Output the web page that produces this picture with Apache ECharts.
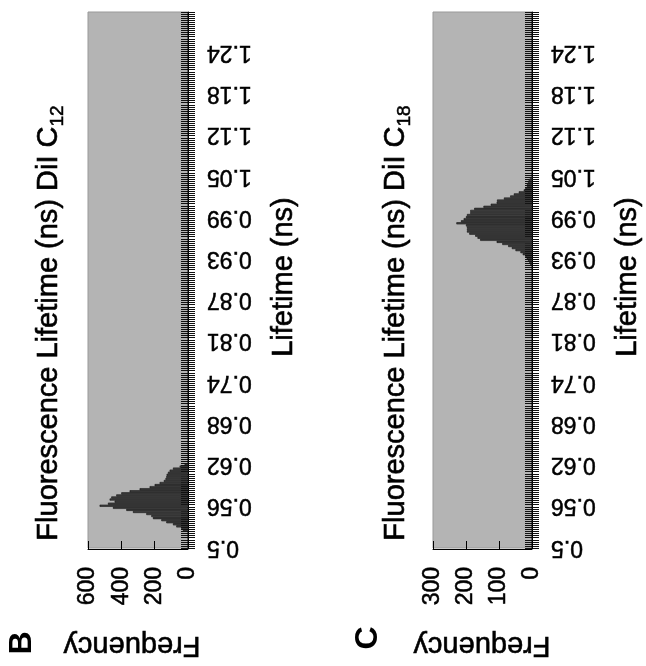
<!DOCTYPE html>
<html><head><meta charset="utf-8">
<script src="https://cdn.jsdelivr.net/npm/echarts@6/dist/echarts.min.js"></script>
<style>html,body{margin:0;padding:0;background:#fff}#c{width:646px;height:666px}</style>
</head><body><div id="c"></div>
<script>
// Lifetime tick labels (every 20th bin)
const tickLabels = ['0.5','0.56','0.62','0.68','0.74','0.81','0.87','0.93','0.99','1.05','1.12','1.18','1.24'];
const binsPerLabel = 20;
const binCount = 260;
// Panel B: DiI C12 histogram counts (one per bin)
const freqB = [
0,0,0,0,0,0,0,0,
30,40,70,90,130,160,210,220,250,330,370,450,530,480,440,470,460,430,400,350,290,230,200,170,145,135,130,128,120,110,90,50,20,
0,0,0,0,0,0,0,0,0,0,0,0,0,0,0,0,0,0,0,0,
0,0,0,0,0,0,0,0,0,0,0,0,0,0,0,0,0,0,0,0,
0,0,0,0,0,0,0,0,0,0,0,0,0,0,0,0,0,0,0,0,
0,0,0,0,0,0,0,0,0,0,0,0,0,0,0,0,0,0,0,0,
0,0,0,0,0,0,0,0,0,0,0,0,0,0,0,0,0,0,0,0,
0,0,0,0,0,0,0,0,0,0,0,0,0,0,0,0,0,0,0,0,
0,0,0,0,0,0,0,0,0,0,0,0,0,0,0,0,0,0,0,0,
0,0,0,0,0,0,0,0,0,0,0,0,0,0,0,0,0,0,0,0,
0,0,0,0,0,0,0,0,0,0,0,0,0,0,0,0,0,0,0,0,
0,0,0,0,0,0,0,0,0,0,0,0,0,0,0,0,0,0,0,0,
0,0,0,0,0,0,0,0,0,0,0,0,0,0,0,0,0,0,0
];
// Panel C: DiI C18 histogram counts
const freqC = [
0,0,0,0,0,0,0,0,0,0,0,0,0,0,0,0,0,0,0,0,
0,0,0,0,0,0,0,0,0,0,0,0,0,0,0,0,0,0,0,0,
0,0,0,0,0,0,0,0,0,0,0,0,0,0,0,0,0,0,0,0,
0,0,0,0,0,0,0,0,0,0,0,0,0,0,0,0,0,0,0,0,
0,0,0,0,0,0,0,0,0,0,0,0,0,0,0,0,0,0,0,0,
0,0,0,0,0,0,0,0,0,0,0,0,0,0,0,0,0,0,0,0,
0,0,0,0,0,0,0,0,0,0,0,0,0,0,0,0,0,
5,8,12,16,20,28,35,50,61,72,90,107,157,165,172,190,197,197,197,200,229,215,207,200,197,187,187,175,147,125,107,106,85,66,55,40,25,20,15,15,12,10,5,
0,0,0,0,0,0,0,0,0,0,0,0,0,0,0,0,0,0,0,0,
0,0,0,0,0,0,0,0,0,0,0,0,0,0,0,0,0,0,0,0,
0,0,0,0,0,0,0,0,0,0,0,0,0,0,0,0,0,0,0,0,
0,0,0,0,0,0,0,0,0,0,0,0,0,0,0,0,0,0,0,0
];
const freqMaxB = 600, freqStepB = 200;
const freqMaxC = 300, freqStepC = 100;
const titleText = 'Fluorescence Lifetime (ns) DiI C';
const subB = '12', subC = '18';
const xName = 'Lifetime (ns)', yName = 'Frequency';

const FONT = '"Liberation Sans", Arial, sans-serif';
const cats = [];
for (let i = 0; i < binCount; i++) cats.push(String(i));

const chart = echarts.init(document.getElementById('c'), null, {renderer: 'canvas'});

function grid(left, width) {
  return {left: left, top: 12, width: width, height: 536, show: true,
    backgroundColor: '#b4b4b4', borderColor: '#999', borderWidth: 1,
    containLabel: false, outerBoundsMode: 'none'};
}
function valueAxis(gi, max, step) {
  return {gridIndex: gi, type: 'value', min: 0, max: max, interval: step, inverse: true,
    position: 'bottom', offset: 1,
    axisLine: {show: true, lineStyle: {color: '#000', width: 1}},
    axisTick: {show: true, inside: true, length: 8, lineStyle: {color: '#000'}},
    axisLabel: {rotate: 90, fontSize: 23, color: '#000', margin: 18, fontFamily: FONT,
      textBorderColor: '#000', textBorderWidth: 0.5},
    splitLine: {show: false}};
}
function catAxis(gi) {
  return {gridIndex: gi, type: 'category', data: cats, position: 'right', boundaryGap: true,
    axisLine: {show: true, lineStyle: {color: '#000', width: 1}},
    axisTick: {show: true, interval: 0, length: 7, lineStyle: {color: '#111', width: 1}},
    axisLabel: {interval: binsPerLabel - 1, rotate: 180, fontSize: 23, color: '#000', margin: 19,
      fontFamily: FONT, textBorderColor: '#000', textBorderWidth: 0.5,
      formatter: function (v) { return tickLabels[Number(v) / binsPerLabel]; }},
    splitLine: {show: false}};
}
function catAxisInner(gi) {
  return {gridIndex: gi, type: 'category', data: cats, position: 'right', boundaryGap: true,
    axisLine: {show: false},
    axisTick: {show: true, inside: true, interval: 0, length: 7, lineStyle: {color: '#111', width: 1}},
    axisLabel: {show: false}, splitLine: {show: false}};
}
function barSeries(xi, yi, data) {
  return {type: 'bar', xAxisIndex: xi, yAxisIndex: yi, data: data, barCategoryGap: '0%',
    itemStyle: {color: '#444', borderColor: '#000', borderWidth: 0.5}, silent: true};
}
function rot(x, y, r, text, size, weight) {
  return {type: 'text', x: x, y: y, rotation: r, silent: true,
    style: {text: text, fontSize: size, fontFamily: FONT, fontWeight: weight || 'normal',
      fill: '#000', stroke: '#000', lineWidth: weight ? 0 : 0.6, align: 'center', verticalAlign: 'middle'}};
}
function titleEl(x, y, sub) {
  return {type: 'text', x: x, y: y, rotation: Math.PI / 2, silent: true,
    style: {text: '{m|' + titleText + '}{s|' + sub + '}', align: 'center', verticalAlign: 'middle',
      rich: {
        m: {fontSize: 29, fontFamily: FONT, fill: '#000', stroke: '#000', lineWidth: 0.6, lineHeight: 34, verticalAlign: 'top'},
        s: {fontSize: 19, fontFamily: FONT, fill: '#000', stroke: '#000', lineWidth: 0.5, lineHeight: 20, verticalAlign: 'top', padding: [14, 0, 0, 0]}
      }}};
}

const extra = [];
if (freqB.length !== binCount || freqC.length !== binCount) {
  extra.push({type: 'text', x: 300, y: 300, style: {text: 'LEN ' + freqB.length + ' ' + freqC.length, fontSize: 30, fill: 'red'}});
}

chart.setOption({
  animation: false,
  grid: [grid(88, 100), grid(433, 99)],
  xAxis: [valueAxis(0, freqMaxB, freqStepB), valueAxis(1, freqMaxC, freqStepC)],
  yAxis: [catAxis(0), catAxisInner(0), catAxis(1), catAxisInner(1)],
  series: [barSeries(0, 0, freqB), barSeries(1, 2, freqC)],
  graphic: [
    titleEl(51, 323, subB),
    titleEl(398, 323, subC),
    rot(284, 277, Math.PI / 2, xName, 29),
    rot(628, 277, Math.PI / 2, xName, 29),
    rot(132, 645, Math.PI, yName, 29),
    rot(482, 645, Math.PI, yName, 29),
    rot(22, 643, Math.PI / 2, 'B', 32, 'bold'),
    rot(368, 638, Math.PI / 2, 'C', 32, 'bold')
  ].concat(extra)
});
</script></body></html>
